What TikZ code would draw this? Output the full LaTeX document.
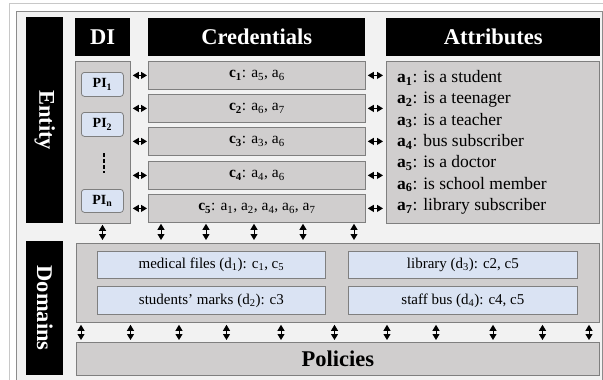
\documentclass[tikz,border=0pt]{standalone}
\usepackage{fontspec}
\setmainfont{Liberation Serif}
\usetikzlibrary{arrows.meta}
\definecolor{boxgray}{HTML}{D0CECE}
\definecolor{bordgray}{HTML}{7F7F7F}
\definecolor{bgin}{HTML}{F2F2F2}
\definecolor{lblue}{HTML}{DAE3F3}
\definecolor{frameline}{HTML}{8C8C8C}
\definecolor{outerline}{HTML}{C8C8C8}
\newcommand\sbs[1]{\textsubscript{#1}}
\tikzset{
  gbox/.style={draw=bordgray, fill=boxgray, line width=0.8pt, inner sep=0pt, anchor=north west},
  bbox/.style={draw=bordgray, fill=lblue, line width=0.8pt, inner sep=0pt, anchor=north west, font=\fontsize{15}{17}\selectfont},
  hdr/.style={fill=black, text=white, inner sep=0pt, anchor=north west, font=\bfseries\fontsize{22.5}{24}\selectfont},
  pibox/.style={draw=bordgray, fill=lblue, line width=0.8pt, rounded corners=3pt, inner sep=0pt, anchor=north west, minimum width=42pt, minimum height=24pt, font=\bfseries\fontsize{14}{16}\selectfont},
  crow/.style={gbox, minimum width=217pt, minimum height=28pt, font=\fontsize{15.5}{17}\selectfont},
  dbl/.style={{Triangle[length=6pt,width=7pt]}-{Triangle[length=6pt,width=7pt]}, line width=1pt, black},
}
\begin{document}
\begin{tikzpicture}[x=1pt,y=-1pt]
\useasboundingbox (0,0) rectangle (603,380);
\fill[white] (0,0) rectangle (603,380);
\draw[outerline, line width=0.8pt] (9,380) -- (9,3) -- (603,3);
\draw[frameline, fill=bgin, line width=0.8pt] (16,381) -- (16,11) -- (602,11) -- (602,381);

% headers
\node[hdr, minimum width=37pt, minimum height=206pt] (ent) at (26,17) {};
\node[text=white, font=\bfseries\fontsize{22.5}{24}\selectfont, rotate=-90] at (ent.center) {Entity};
\node[hdr, minimum width=55pt, minimum height=38pt] (dih) at (75,18) {DI};
\node[hdr, minimum width=217pt, minimum height=38pt] (crh) at (148,18) {Credentials};
\node[hdr, minimum width=214pt, minimum height=38pt] (ath) at (386,18) {Attributes};

% DI
\node[gbox, minimum width=55pt, minimum height=162pt] (di) at (75,61) {};
\node[pibox] (pi1) at (81,72) {PI\sbs{1}};
\node[pibox] (pi2) at (81,112) {PI\sbs{2}};
\node[pibox, minimum height=23pt] (pin) at (81,189) {PI\sbs{n}};
\coordinate (dt) at (104,153);
\coordinate (db) at (104,173);
\draw[black, line width=1.6pt, dash pattern=on 4pt off 2pt] (dt) -- (db);

% credentials
\node[crow] (c1) at (148,61) {\textbf{c\sbs{1}}: a\sbs{5}, a\sbs{6}};
\node[crow] (c2) at (148,94) {\textbf{c\sbs{2}}: a\sbs{6}, a\sbs{7}};
\node[crow] (c3) at (148,127) {\textbf{c\sbs{3}}: a\sbs{3}, a\sbs{6}};
\node[crow] (c4) at (148,161) {\textbf{c\sbs{4}}: a\sbs{4}, a\sbs{6}};
\node[crow] (c5) at (148,194) {\textbf{c\sbs{5}}: a\sbs{1}, a\sbs{2}, a\sbs{4}, a\sbs{6}, a\sbs{7}};

% attributes
\node[gbox, minimum width=213pt, minimum height=162pt] (at) at (386,61) {};
\node[anchor=west, align=left, inner sep=0pt, font=\fontsize{17.5}{21.3}\selectfont] (atx) at ([xshift=11pt]at.west) {%
\textbf{a\sbs{1}}: is a student\\
\textbf{a\sbs{2}}: is a teenager\\
\textbf{a\sbs{3}}: is a teacher\\
\textbf{a\sbs{4}}: bus subscriber\\
\textbf{a\sbs{5}}: is a doctor\\
\textbf{a\sbs{6}}: is school member\\
\textbf{a\sbs{7}}: library subscriber};

% horizontal arrows
\foreach \c in {c1,c2,c3,c4,c5}{
  \draw[dbl, shorten <=2pt, shorten >=1pt] (\c.west -| di.east) -- (\c.west);
  \draw[dbl, shorten <=2pt, shorten >=3pt] (\c.east) -- (\c.east -| at.west);
}

% domains
\node[hdr, minimum width=37pt, minimum height=134pt] (domh) at (26,241) {};
\node[text=white, font=\bfseries\fontsize{22.5}{24}\selectfont, rotate=-90] at (domh.center) {Domains};
\node[gbox, minimum width=523pt, minimum height=79pt] (dom) at (76,243) {};
\node[bbox, minimum width=228pt, minimum height=27pt] (d1) at (97,251) {medical files (d\sbs{1}): c\sbs{1}, c\sbs{5}};
\node[bbox, minimum width=228pt, minimum height=28pt] (d2) at (97,286) {students’ marks (d\sbs{2}): c3};
\node[bbox, minimum width=229pt, minimum height=27pt] (d3) at (348,251) {library (d\sbs{3}): c2, c5};
\node[bbox, minimum width=229pt, minimum height=28pt] (d4) at (348,286) {staff bus (d\sbs{4}): c4, c5};

% policies
\node[gbox, minimum width=523pt, minimum height=33pt, font=\bfseries\fontsize{22.5}{24}\selectfont] (pol) at (76,342) {Policies};

% vertical arrows entity -> domains
\coordinate (u0) at (102.5,0);
\draw[dbl, shorten <=1pt, shorten >=3pt] (di.south -| u0) -- (dom.north -| u0);
\foreach \x [count=\i] in {161,206,254,303,354}{
  \coordinate (u\i) at (\x,0);
  \draw[dbl, shorten <=1pt, shorten >=3pt] (c5.south -| u\i) -- (dom.north -| u\i);
}
% vertical arrows domains -> policies
\foreach \x [count=\i] in {81,130.5,179,226.5,281,334.5,387,436,493,542.5,589}{
  \coordinate (w\i) at (\x,0);
  \draw[dbl, shorten <=2pt, shorten >=2pt] (dom.south -| w\i) -- (pol.north -| w\i);
}
\end{tikzpicture}
\end{document}
